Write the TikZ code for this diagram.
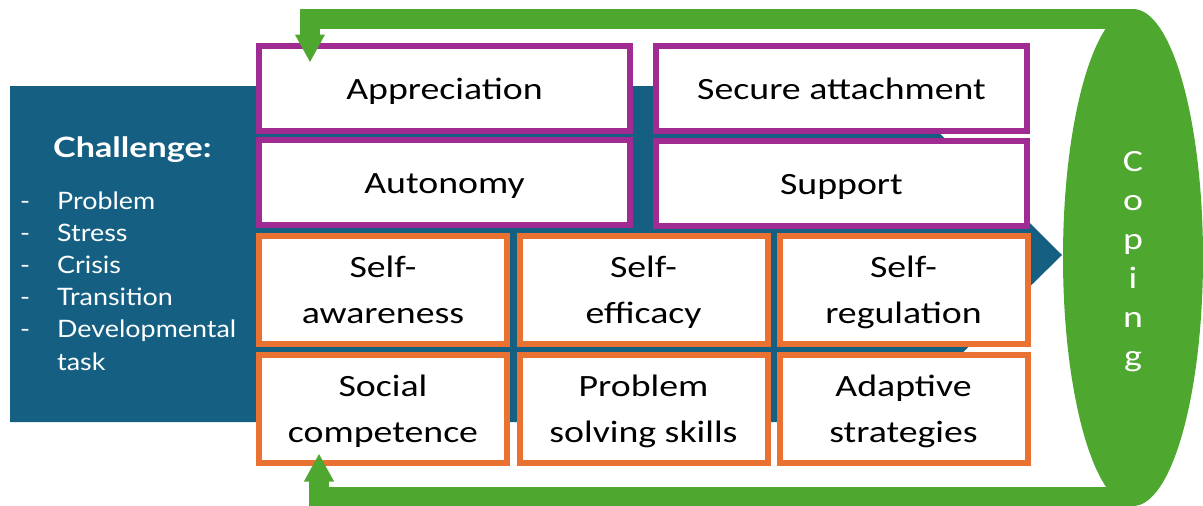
\documentclass[tikz,border=0pt]{standalone}
\usepackage{fontspec}
\setmainfont{Carlito}
\newfontfamily\boxfont[FakeStretch=1.22]{Carlito}
\newfontfamily\listfont[FakeStretch=1.12]{Lato}
\newfontfamily\chalfont[FakeStretch=1.22]{Lato}
\usetikzlibrary{arrows.meta,shapes.geometric}
\definecolor{chalblue}{HTML}{156082}
\definecolor{purp}{HTML}{A02B93}
\definecolor{orng}{HTML}{E97132}
\definecolor{grn}{HTML}{4EA72E}
% centred multi-line text whose baseline is that of its first line
\newcommand\stacklines[1]{\begin{tabular}[t]{@{}c@{}}#1\end{tabular}}
\newcommand\dashitem[1]{\makebox[37pt][l]{-}#1}
\begin{document}
\begin{tikzpicture}[x=1pt,y=-1pt,
  frame/.style={draw, fill=white, line width=6pt, inner sep=0pt, outer sep=0pt},
  purplebox/.style={frame, draw=purp, minimum width=371pt, minimum height=85pt},
  orangebox/.style={frame, draw=orng, minimum width=248pt, minimum height=108pt},
  boxtext/.style={font=\boxfont\fontsize{31}{46}\selectfont, inner sep=0pt, anchor=base},
  feedback/.style={draw=grn, line width=20pt, -{Triangle[length=28pt,width=28pt]}},
]
\useasboundingbox (0,0) rectangle (1203,506);

% challenge arrow
\fill[chalblue] (10,86) -- (892,86) -- (1062,255) -- (892,422) -- (10,422) -- cycle;

% coping
\node[ellipse, fill=grn, minimum width=140pt, minimum height=497pt, inner sep=0pt, outer sep=0pt] (coping) at (1133,257.5) {};
\node[font=\boxfont\fontsize{31}{39}\selectfont, text=white, anchor=base, inner sep=0pt] (copingtext)
  at ([yshift=85.8pt]coping.center) {\stacklines{C\\o\\p\\i\\n\\g}};

% challenge text
\node[anchor=base west, inner sep=0pt, text=white, font=\chalfont\bfseries\fontsize{28}{34}\selectfont] (chal) at (53,157) {Challenge:};
\node[anchor=base west, inner sep=0pt, text=white, font=\listfont\fontsize{24}{32.2}\selectfont] (items) at (20,209)
  {\begin{tabular}[t]{@{}l@{}}
    \dashitem{Problem}\\
    \dashitem{Stress}\\
    \dashitem{Crisis}\\
    \dashitem{Transition}\\
    \dashitem{Developmental}\\
    \hspace*{37pt}task
  \end{tabular}};

% resources
\node[purplebox] (appr) at (444.5,88) {};
\node[purplebox] (secure) at (841.5,88) {};
\node[purplebox] (auto) at (444.5,182.5) {};
\node[purplebox] (supp) at (841.5,183) {};

% competences
\node[orangebox] (selfaw) at (383,289.5) {};
\node[orangebox] (selfef) at (643.5,289.5) {};
\node[orangebox] (selfreg) at (903.5,289.5) {};
\node[orangebox] (social) at (383,408.5) {};
\node[orangebox] (probsolv) at (643.5,408.5) {};
\node[orangebox] (adapt) at (903.5,408.5) {};

\node[boxtext] (apprtext) at ([yshift=-11pt]appr.center) {Appreciation};
\node[boxtext] (securetext) at ([yshift=-11pt]secure.center) {Secure attachment};
\node[boxtext] (autotext) at ([yshift=-11pt]auto.center) {Autonomy};
\node[boxtext] (supptext) at ([yshift=-11pt]supp.center) {Support};

\node[boxtext] (selfawtext) at ([yshift=12.5pt]selfaw.center) {\stacklines{Self-\\awareness}};
\node[boxtext] (selfeftext) at ([yshift=12.5pt]selfef.center) {\stacklines{Self-\\efficacy}};
\node[boxtext] (selfregtext) at ([yshift=12.5pt]selfreg.center) {\stacklines{Self-\\regulation}};
\node[boxtext] (socialtext) at ([yshift=12pt]social.center) {\stacklines{Social\\competence}};
\node[boxtext] (probsolvtext) at ([yshift=12pt]probsolv.center) {\stacklines{Problem\\solving skills}};
\node[boxtext] (adapttext) at ([yshift=12pt]adapt.center) {\stacklines{Adaptive\\strategies}};

% feedback loops from coping
\draw[feedback] ([yshift=-10pt]coping.north) -| ([xshift=51pt,yshift=-17pt]appr.north west);
\draw[feedback] ([yshift=9pt]coping.south) -| ([xshift=60pt,yshift=9pt]social.south west);
\end{tikzpicture}
\end{document}
